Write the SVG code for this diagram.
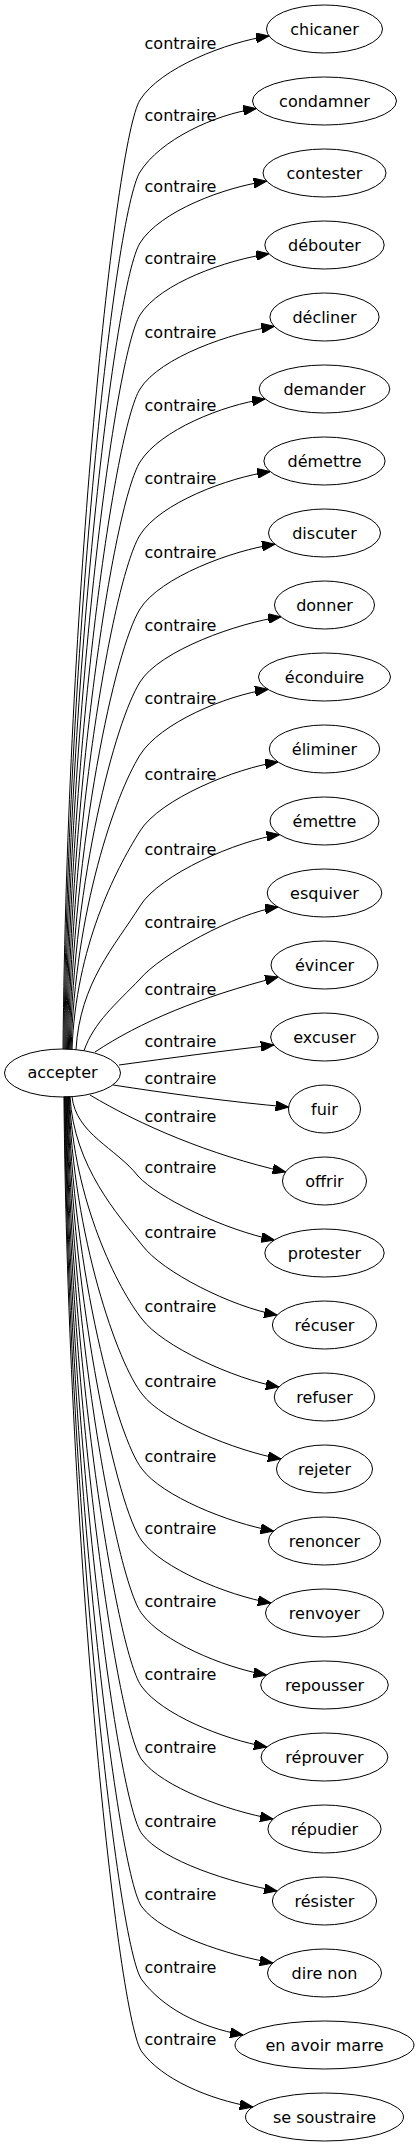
<svg xmlns="http://www.w3.org/2000/svg" width="420" height="2147" viewBox="0 0 420 2147">
<style>
.n ellipse{fill:none;stroke:#000;stroke-width:1}
.n text,.lbl text{font-family:"DejaVu Sans",sans-serif;font-size:16px;fill:#000;text-anchor:middle}
#connectors path{fill:none;stroke:#000;stroke-width:1;marker-end:url(#arr)}
</style>
<defs>
<marker id="arr" markerUnits="userSpaceOnUse" markerWidth="13" markerHeight="10" viewBox="0 0 13 10" refX="13" refY="5" orient="auto"><path d="M0,0 L13,5 L0,10 z" fill="#000" stroke="#000" stroke-width="1"/></marker>
</defs>
<rect width="420" height="2147" fill="#fff"/>
<g id="connectors">
<path d="M63,1049.2 C67,603.1 115,140 140,100 C160,68 227,42 269,36"/>
<path d="M63.9,1049.2 C67.9,636.9 115,212 140,172 C160,140 214.2,114.6 256.2,108.6"/>
<path d="M64.8,1049.2 C68.8,670.3 115,283 140,243 C160,211 224.7,187.2 266.7,181.2"/>
<path d="M65.7,1049.2 C69.7,704.1 115,355 140,315 C160,283 227,259.8 269,253.8"/>
<path d="M66.6,1049.2 C70.6,738.9 115,429 140,389 C160,357 232.3,332.4 274.3,326.4"/>
<path d="M67.5,1049.3 C71.5,773.2 115,502 140,462 C160,430 223.1,405 265.1,399"/>
<path d="M68.4,1049.3 C72.4,807.6 115,575 140,535 C160,503 228.1,477.6 270.1,471.6"/>
<path d="M69.3,1049.3 C73.3,842.4 115,649 140,609 C160,577 233,550.2 275,544.2"/>
<path d="M70.2,1049.3 C74.2,876.7 115,722 140,682 C160,650 239,622.8 281,616.8"/>
<path d="M71.1,1049.4 C75.1,911 115,795 140,755 C160,723 226,695.4 268,689.4"/>
<path d="M72,1049.4 C76,946.8 115,871 140,831 C160,799 236.1,768 278.1,762"/>
<path d="M76,1049.7 C80,982.2 115,946 140,906 C160,874 237.6,840.6 279.6,834.6"/>
<path d="M84,1050.7 C94,1022 116,1004 140,979 C160,955 236,913 278,907"/>
<path d="M95,1052 C140,1022 200,997 278.2,977"/>
<path d="M119,1065 C170,1058 222,1051 273.8,1045"/>
<path d="M113,1085 C165,1093 230,1102 288.6,1107"/>
<path d="M90,1095 C140,1125 210,1155 285.6,1172"/>
<path d="M72,1096.6 C76,1133.9 116,1148 138,1176 C158,1198 225,1230 274.3,1240"/>
<path d="M70,1096.6 C74,1166.3 118,1215 142,1245 C162,1272 232.1,1307 277.1,1315"/>
<path d="M69.45,1096.6 C73.45,1201.1 118,1289 142,1319 C162,1346 233.9,1379 278.9,1387"/>
<path d="M68.9,1096.6 C72.9,1236.4 118,1364 142,1394 C162,1421 235.9,1451 280.9,1459"/>
<path d="M68.35,1096.6 C72.35,1271.6 118,1439 142,1469 C162,1496 228.6,1523 273.6,1531"/>
<path d="M67.8,1096.6 C71.8,1305.5 118,1511 142,1541 C162,1568 225.9,1595 270.9,1603"/>
<path d="M67.25,1096.6 C71.25,1339.8 118,1584 142,1614 C162,1641 221.5,1667 266.5,1675"/>
<path d="M66.7,1096.6 C70.7,1374.1 118,1657 142,1687 C162,1714 221.9,1739 266.9,1747"/>
<path d="M66.15,1096.6 C70.15,1408.4 118,1730 142,1760 C162,1787 228,1811 273,1819"/>
<path d="M65.6,1096.6 C69.6,1443.2 118,1804 142,1834 C162,1861 232.1,1883 277.1,1891"/>
<path d="M65.05,1096.6 C69.05,1477.5 118,1877 142,1907 C162,1934 227.7,1955 272.7,1963"/>
<path d="M64.5,1096.6 C68.5,1511.8 118,1950 142,1980 C162,2007 198.1,2027 243.1,2035"/>
<path d="M63.95,1096.6 C67.95,1545.6 118,2022 142,2052 C162,2079 207.7,2099 252.7,2107"/>
</g>
<g id="edge-labels" class="lbl">
<text x="180.5" y="49">contraire</text>
<text x="180.5" y="121">contraire</text>
<text x="180.5" y="192">contraire</text>
<text x="180.5" y="264">contraire</text>
<text x="180.5" y="338">contraire</text>
<text x="180.5" y="411">contraire</text>
<text x="180.5" y="484">contraire</text>
<text x="180.5" y="558">contraire</text>
<text x="180.5" y="631">contraire</text>
<text x="180.5" y="704">contraire</text>
<text x="180.5" y="780">contraire</text>
<text x="180.5" y="855">contraire</text>
<text x="180.5" y="928">contraire</text>
<text x="180.5" y="995">contraire</text>
<text x="180.5" y="1047">contraire</text>
<text x="180.5" y="1084">contraire</text>
<text x="180.5" y="1122">contraire</text>
<text x="180.5" y="1173">contraire</text>
<text x="180.5" y="1238">contraire</text>
<text x="180.5" y="1312">contraire</text>
<text x="180.5" y="1387">contraire</text>
<text x="180.5" y="1462">contraire</text>
<text x="180.5" y="1534">contraire</text>
<text x="180.5" y="1607">contraire</text>
<text x="180.5" y="1680">contraire</text>
<text x="180.5" y="1753">contraire</text>
<text x="180.5" y="1827">contraire</text>
<text x="180.5" y="1900">contraire</text>
<text x="180.5" y="1973">contraire</text>
<text x="180.5" y="2045">contraire</text>
</g>
<g id="node-accepter" class="n"><ellipse cx="62.5" cy="1073" rx="58" ry="24"/><text x="62.5" y="1078">accepter</text></g>
<g id="node-chicaner" class="n"><ellipse cx="324.5" cy="29" rx="58" ry="24"/><text x="324.5" y="34.5">chicaner</text></g>
<g id="node-condamner" class="n"><ellipse cx="324.5" cy="101" rx="72" ry="24"/><text x="324.5" y="106.5">condamner</text></g>
<g id="node-contester" class="n"><ellipse cx="324.5" cy="173" rx="61.5" ry="24"/><text x="324.5" y="178.5">contester</text></g>
<g id="node-debouter" class="n"><ellipse cx="324.5" cy="245" rx="59.7" ry="24"/><text x="324.5" y="250.5">débouter</text></g>
<g id="node-decliner" class="n"><ellipse cx="324.5" cy="317" rx="54.6" ry="24"/><text x="324.5" y="322.5">décliner</text></g>
<g id="node-demander" class="n"><ellipse cx="324.5" cy="389" rx="65.3" ry="24"/><text x="324.5" y="394.5">demander</text></g>
<g id="node-demettre" class="n"><ellipse cx="324.5" cy="461" rx="60.6" ry="24"/><text x="324.5" y="466.5">démettre</text></g>
<g id="node-discuter" class="n"><ellipse cx="324.5" cy="533" rx="56" ry="24"/><text x="324.5" y="538.5">discuter</text></g>
<g id="node-donner" class="n"><ellipse cx="324.5" cy="605" rx="50" ry="24"/><text x="324.5" y="610.5">donner</text></g>
<g id="node-econduire" class="n"><ellipse cx="324.5" cy="677" rx="66" ry="24"/><text x="324.5" y="682.5">éconduire</text></g>
<g id="node-eliminer" class="n"><ellipse cx="324.5" cy="749" rx="55.2" ry="24"/><text x="324.5" y="754.5">éliminer</text></g>
<g id="node-emettre" class="n"><ellipse cx="324.5" cy="821" rx="54.5" ry="24"/><text x="324.5" y="826.5">émettre</text></g>
<g id="node-esquiver" class="n"><ellipse cx="324.5" cy="893" rx="57.3" ry="24"/><text x="324.5" y="898.5">esquiver</text></g>
<g id="node-evincer" class="n"><ellipse cx="324.5" cy="965" rx="53.5" ry="24"/><text x="324.5" y="970.5">évincer</text></g>
<g id="node-excuser" class="n"><ellipse cx="324.5" cy="1037" rx="53.8" ry="24"/><text x="324.5" y="1042.5">excuser</text></g>
<g id="node-fuir" class="n"><ellipse cx="324.5" cy="1109" rx="36" ry="24"/><text x="324.5" y="1114.5">fuir</text></g>
<g id="node-offrir" class="n"><ellipse cx="324.5" cy="1181" rx="42" ry="24"/><text x="324.5" y="1186.5">offrir</text></g>
<g id="node-protester" class="n"><ellipse cx="324.5" cy="1253" rx="59.7" ry="24"/><text x="324.5" y="1258.5">protester</text></g>
<g id="node-recuser" class="n"><ellipse cx="324.5" cy="1325" rx="52.1" ry="24"/><text x="324.5" y="1330.5">récuser</text></g>
<g id="node-refuser" class="n"><ellipse cx="324.5" cy="1397" rx="50.2" ry="24"/><text x="324.5" y="1402.5">refuser</text></g>
<g id="node-rejeter" class="n"><ellipse cx="324.5" cy="1469" rx="48" ry="24"/><text x="324.5" y="1474.5">rejeter</text></g>
<g id="node-renoncer" class="n"><ellipse cx="324.5" cy="1541" rx="56" ry="24"/><text x="324.5" y="1546.5">renoncer</text></g>
<g id="node-renvoyer" class="n"><ellipse cx="324.5" cy="1613" rx="59" ry="24"/><text x="324.5" y="1618.5">renvoyer</text></g>
<g id="node-repousser" class="n"><ellipse cx="324.5" cy="1685" rx="63.8" ry="24"/><text x="324.5" y="1690.5">repousser</text></g>
<g id="node-reprouver" class="n"><ellipse cx="324.5" cy="1757" rx="63.4" ry="24"/><text x="324.5" y="1762.5">réprouver</text></g>
<g id="node-repudier" class="n"><ellipse cx="324.5" cy="1829" rx="56.6" ry="24"/><text x="324.5" y="1834.5">répudier</text></g>
<g id="node-resister" class="n"><ellipse cx="324.5" cy="1901" rx="52.1" ry="24"/><text x="324.5" y="1906.5">résister</text></g>
<g id="node-dire-non" class="n"><ellipse cx="324.5" cy="1973" rx="57" ry="24"/><text x="324.5" y="1978.5">dire non</text></g>
<g id="node-en-avoir-marre" class="n"><ellipse cx="324.5" cy="2045" rx="89.5" ry="24"/><text x="324.5" y="2050.5">en avoir marre</text></g>
<g id="node-se-soustraire" class="n"><ellipse cx="324.5" cy="2117" rx="79" ry="24"/><text x="324.5" y="2122.5">se soustraire</text></g>
</svg>
